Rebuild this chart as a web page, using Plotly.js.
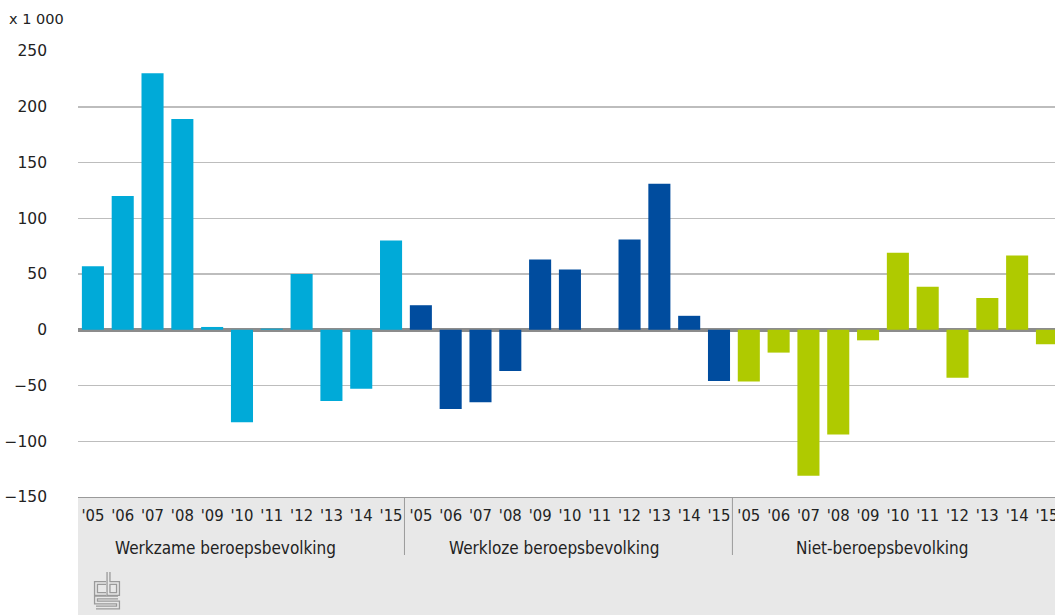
<!DOCTYPE html>
<html>
<head>
<meta charset="utf-8">
<script src="https://cdn.plot.ly/plotly-3.0.1.min.js"></script>
<style>html,body{margin:0;padding:0;background:#fff;}#chart{width:1055px;height:615px;}</style>
</head>
<body>
<div id="chart"></div>
<script>
const years = ["'05","'06","'07","'08","'09","'10","'11","'12","'13","'14","'15"];
const groups = ["Werkzame beroepsbevolking","Werkloze beroepsbevolking","Niet-beroepsbevolking"];
const werkzame = [57, 120, 230, 189, 2.5, -83, 1, 50, -64, -53, 80];
const werkloze = [22, -71, -65, -37, 63, 54, 0, 81, 131, 12.5, -46];
const niet = [-46.5, -20.5, -131, -94, -9.5, 69, 38.5, -43, 28.5, 66.5, -13];
const colors = ["#00aad8", "#004c9e", "#afca00"];
const unitLabel = "x 1 000";

const series = [werkzame, werkloze, niet];
// unique category keys: group + year
const keys = groups.map(g => years.map(y => g + ' ' + y));
const allKeys = [].concat(...keys);
const allYears = [].concat(...groups.map(() => years));

const traces = series.map((vals, g) => ({
  type: 'bar',
  x: keys[g],
  y: vals,
  name: groups[g],
  marker: {color: colors[g], line: {width: 0}},
  width: 0.74,
  hoverinfo: 'y',
  showlegend: false
}));

const W = 1055, H = 615, mt = 51, mb = 118, ml = 78, mr = 0;
const plotH = H - mt - mb;
const plotW = W - ml - mr;

const logo = 'data:image/svg+xml;utf8,' + encodeURIComponent(
  '<svg xmlns="http://www.w3.org/2000/svg" width="28" height="40" viewBox="0 0 28 40">' +
  '<g fill="none" stroke-linejoin="miter" stroke-linecap="butt">' +
  '<path d="M13,13 H3 V24 H13 M15.5,2 V24 H25 V13 H15.5 M25,27.5 H3 V32.5 H25 V37.5 H3" stroke="#9a9a9a" stroke-width="4.2"/>' +
  '<path d="M13,13 H3 V24 H13 M15.5,2 V24 H25 V13 H15.5 M25,27.5 H3 V32.5 H25 V37.5 H3" stroke="#e8e8e8" stroke-width="1.6"/>' +
  '</g></svg>');

const shapes = [{
  type: 'rect', xref: 'paper', yref: 'paper',
  x0: 0, x1: 1, y0: -mb / plotH, y1: 0,
  fillcolor: '#e8e8e8', line: {width: 0}, layer: 'below'
}];
// dividers between groups
for (let g = 1; g < groups.length; g++) {
  const pos = g * years.length - 0.55;
  shapes.push({
    type: 'line', xref: 'x', yref: 'paper',
    x0: pos, x1: pos, y0: 0, y1: -58 / plotH,
    line: {color: '#9a9a9a', width: 1}
  });
}

const annotations = [{
  text: unitLabel, xref: 'paper', yref: 'paper',
  x: -ml / plotW + 7 / plotW, y: 1 + 32 / plotH,
  xanchor: 'left', yanchor: 'middle', showarrow: false,
  font: {family: 'DejaVu Sans, sans-serif', size: 14.5, color: '#222222'}
}];
groups.forEach((g, i) => {
  annotations.push({
    text: g, xref: 'x', yref: 'paper',
    x: i * years.length + (years.length - 1) / 2, y: -51 / plotH,
    xshift: -16,
    xanchor: 'center', yanchor: 'middle', showarrow: false,
    font: {family: 'DejaVu Sans Condensed, DejaVu Sans, sans-serif', size: 17, color: '#222222'}
  });
});

const layout = {
  width: W, height: H,
  margin: {l: ml, r: mr, t: mt, b: mb, pad: 0},
  paper_bgcolor: '#ffffff',
  plot_bgcolor: 'rgba(0,0,0,0)',
  font: {family: 'DejaVu Sans, sans-serif', color: '#222222'},
  xaxis: {
    type: 'category',
    categoryorder: 'array',
    categoryarray: allKeys,
    tickvals: allKeys,
    ticktext: allYears,
    range: [-0.5, 32.27],
    showgrid: false,
    showline: true,
    linecolor: '#9a9a9a',
    linewidth: 1,
    ticks: '',
    ticklabelstandoff: 3,
    tickangle: 0,
    tickfont: {family: 'DejaVu Sans Condensed, DejaVu Sans, sans-serif', size: 16.5, color: '#222222'},
    fixedrange: true
  },
  yaxis: {
    range: [-150, 250],
    tickvals: [-150, -100, -50, 0, 50, 100, 150, 200, 250],
    tickfont: {family: 'DejaVu Sans, sans-serif', size: 15.5, color: '#222222'},
    showgrid: true,
    gridcolor: '#bdbdbd',
    gridwidth: 1.5,
    zeroline: true,
    zerolinecolor: '#8c8c8c',
    zerolinewidth: 4,
    showline: false,
    ticks: '',
    ticklabelstandoff: 30,
    fixedrange: true
  },
  shapes: shapes,
  annotations: annotations,
  images: [{
    source: logo, xref: 'paper', yref: 'paper',
    x: 15 / plotW, y: -(570 - (H - mb)) / plotH,
    sizex: 28 / plotW, sizey: 40 / plotH,
    xanchor: 'left', yanchor: 'top', sizing: 'stretch', layer: 'above'
  }]
};

Plotly.newPlot('chart', traces, layout, {displayModeBar: false, staticPlot: true});
</script>
</body>
</html>
